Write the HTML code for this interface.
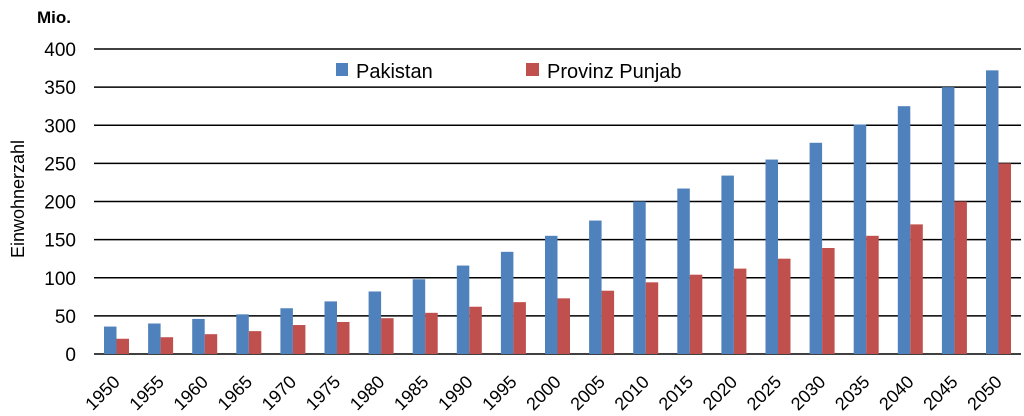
<!DOCTYPE html>
<html><head><meta charset="utf-8"><style>
html,body{margin:0;padding:0;background:#fff;}
svg{display:block;font-family:"Liberation Sans",sans-serif;}
</style></head><body>
<svg width="1024" height="416" viewBox="0 0 1024 416" xmlns="http://www.w3.org/2000/svg">
<rect width="1024" height="416" fill="#fff"/>
<text x="37" y="23" font-size="17" font-weight="bold" fill="#000">Mio.</text>
<text transform="translate(24,199) rotate(-90)" text-anchor="middle" font-size="18" fill="#000">Einwohnerzahl</text>
<g id="grid" stroke="#000" stroke-width="1.6"></g>
<g id="yl" font-size="19" text-anchor="end" fill="#000"></g>
<g id="bars"></g>
<g id="xl" font-size="18" text-anchor="end" fill="#000"></g>
<rect x="330" y="56" width="390" height="28" fill="#fff"/>
<rect x="336" y="63" width="12" height="13" fill="#4f81bd"/>
<text x="356" y="78" font-size="20" fill="#000">Pakistan</text>
<rect x="526" y="63" width="13" height="13" fill="#c0504d"/>
<text x="547" y="78" font-size="20" fill="#000">Provinz Punjab</text>
</svg>
<script>
const NS="http://www.w3.org/2000/svg";
function el(p,t,a,txt){const e=document.createElementNS(NS,t);for(const k in a)e.setAttribute(k,a[k]);if(txt!==undefined)e.textContent=txt;document.getElementById(p).appendChild(e);}
const y0=354,s=305/400;
for(let v=0;v<=400;v+=50){const y=y0-v*s;el("grid","line",{x1:94,x2:1021,y1:y,y2:y});el("yl","text",{x:76,y:y+7},v);}
const pk=[36,40,46,52,60,69,82,98,116,134,155,175,200,217,234,255,277,301,325,350,372];
const pj=[20,22,26,30,38,42,47,54,62,68,73,83,94,104,112,125,139,155,170,200,250];
for(let i=0;i<21;i++){const x=104+i*44.1;
el("bars","rect",{x:x,y:y0-pk[i]*s,width:12.5,height:pk[i]*s,fill:"#4f81bd"});
el("bars","rect",{x:x+12.5,y:y0-pj[i]*s,width:12.5,height:pj[i]*s,fill:"#c0504d"});
const cx=x+17,cy=383;
el("xl","text",{x:cx,y:cy,transform:`rotate(-45 ${cx} ${cy})`},1950+5*i);}
</script>
</body></html>
